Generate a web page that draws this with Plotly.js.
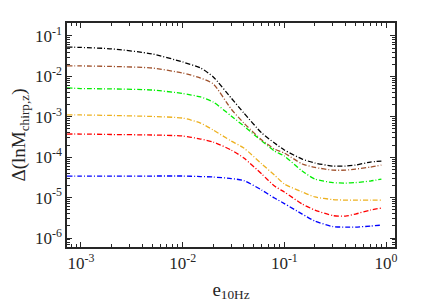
<!DOCTYPE html>
<html>
<head>
<meta charset="utf-8">
<script src="https://cdn.plot.ly/plotly-3.0.1.min.js"></script>
<style>html,body{margin:0;padding:0;background:#fff;}#chart{width:436px;height:308px;}</style>
</head>
<body>
<div id="chart"></div>
<script>
const e10 = [7.3e-4, 1e-3, 2e-3, 5e-3, 0.01, 0.015, 0.02, 0.03, 0.04, 0.06, 0.08, 0.1, 0.15, 0.2, 0.3, 0.4, 0.5, 0.7, 0.9];
const black = [5.3e-2, 5.2e-2, 4.8e-2, 3.6e-2, 2.27e-2, 1.61e-2, 9.7e-3, 2.92e-3, 1.24e-3, 3.97e-4, 2.25e-4, 1.51e-4, 9.0e-5, 7.2e-5, 6.05e-5, 6.05e-5, 6.4e-5, 7.6e-5, 8.05e-5];
const brown = [1.81e-2, 1.81e-2, 1.76e-2, 1.61e-2, 1.21e-2, 9.1e-3, 6.5e-3, 1.56e-3, 7.0e-4, 2.67e-4, 1.6e-4, 1.27e-4, 6.8e-5, 5.6e-5, 4.8e-5, 4.8e-5, 5.1e-5, 5.7e-5, 6.4e-5];
const green = [5.2e-3, 5.0e-3, 4.9e-3, 4.6e-3, 3.77e-3, 3.09e-3, 2.32e-3, 1.05e-3, 5.9e-4, 2.52e-4, 1.42e-4, 1.07e-4, 4.55e-5, 2.88e-5, 2.36e-5, 2.30e-5, 2.36e-5, 2.58e-5, 2.88e-5];
const orange = [1.11e-3, 1.11e-3, 1.08e-3, 1.02e-3, 9.3e-4, 7.0e-4, 4.7e-4, 2.52e-4, 1.69e-4, 6.8e-5, 3.62e-5, 2.17e-5, 1.38e-5, 1.04e-5, 8.98e-6, 8.7e-6, 8.7e-6, 8.7e-6, 8.7e-6];
const red = [3.75e-4, 3.75e-4, 3.65e-4, 3.55e-4, 3.35e-4, 2.82e-4, 2.38e-4, 1.51e-4, 9.55e-5, 3.84e-5, 1.94e-5, 1.38e-5, 6.95e-6, 4.93e-6, 3.6e-6, 3.5e-6, 3.93e-6, 4.93e-6, 5.53e-6];
const blue = [3.43e-5, 3.43e-5, 3.43e-5, 3.43e-5, 3.43e-5, 3.33e-5, 3.24e-5, 2.97e-5, 2.65e-5, 1.54e-5, 9.8e-6, 7.15e-6, 3.93e-6, 2.64e-6, 1.93e-6, 1.87e-6, 1.87e-6, 1.98e-6, 2.10e-6];

const xTickVals = [1e-3, 1e-2, 1e-1, 1];
const xTickText = ['10<sup>-3</sup>', '10<sup>-2</sup>', '10<sup>-1</sup>', '10<sup>0</sup>'];
const yTickVals = [1e-6, 1e-5, 1e-4, 1e-3, 1e-2, 1e-1];
const yTickText = ['10<sup>-6</sup>', '10<sup>-5</sup>', '10<sup>-4</sup>', '10<sup>-3</sup>', '10<sup>-2</sup>', '10<sup>-1</sup>'];

const seriesList = [
  {y: blue, color: '#0000ff'},
  {y: red, color: '#ff0000'},
  {y: orange, color: '#edb120'},
  {y: green, color: '#00ee00'},
  {y: brown, color: '#a0522d'},
  {y: black, color: '#000000'}
];

function minorVals(lo, hi) {
  const out = [];
  for (let p = lo; p <= hi; p++) for (let m = 2; m <= 9; m++) out.push(m * Math.pow(10, p));
  return out;
}

const traces = seriesList.map(s => ({
  x: e10, y: s.y, type: 'scatter', mode: 'lines',
  line: {color: s.color, width: 1.3, dash: '5px,2px,1px,2px', shape: 'spline', smoothing: 0.6},
  hoverinfo: 'skip', showlegend: false
}));

const axisCommon = {
  type: 'log', showgrid: false, zeroline: false,
  showline: true, linecolor: '#262626', linewidth: 1.6, mirror: 'ticks',
  ticks: 'inside', ticklen: 5, tickwidth: 1, tickcolor: '#262626',
  tickmode: 'array',
  tickfont: {family: 'Liberation Serif, Times New Roman, serif', size: 17, color: '#262626'}
};

const layout = {
  width: 436, height: 308,
  margin: {l: 67, r: 41, t: 23, b: 61},
  paper_bgcolor: '#fff', plot_bgcolor: '#fff',
  xaxis: Object.assign({}, axisCommon, {
    range: [-3.137, 0.088],
    tickvals: xTickVals, ticktext: xTickText,
    minor: {tickmode: 'array', tickvals: minorVals(-4, 0), ticks: 'inside', ticklen: 3, tickwidth: 1, tickcolor: '#262626', showgrid: false},
    title: {text: 'e<sub>10Hz</sub>', standoff: 10, font: {family: 'Liberation Serif, Times New Roman, serif', size: 19, color: '#262626'}}
  }),
  yaxis: Object.assign({}, axisCommon, {
    range: [-6.22, -0.68],
    tickvals: yTickVals, ticktext: yTickText,
    minor: {tickmode: 'array', tickvals: minorVals(-7, -1), ticks: 'inside', ticklen: 3, tickwidth: 1, tickcolor: '#262626', showgrid: false},
    title: {text: 'Δ(lnM<sub>chirp,z</sub>)', standoff: 4, font: {family: 'Liberation Serif, Times New Roman, serif', size: 19, color: '#262626'}}
  })
};

Plotly.newPlot('chart', traces, layout, {displayModeBar: false, staticPlot: true});
</script>
</body>
</html>
